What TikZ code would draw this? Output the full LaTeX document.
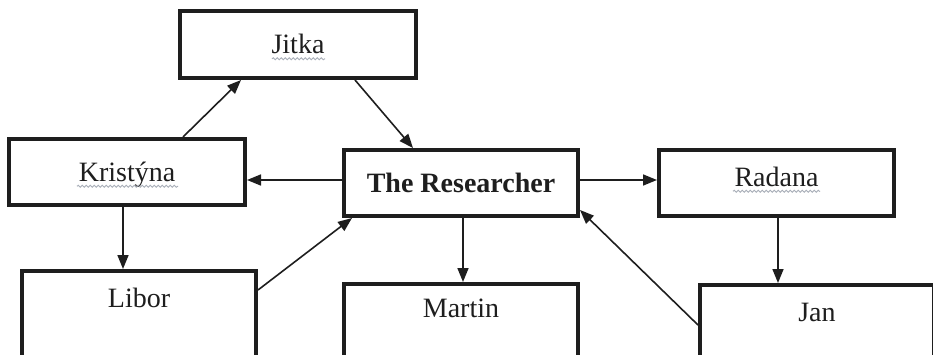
\documentclass[tikz,border=0pt]{standalone}
\usepackage{fontspec}
\setmainfont{Liberation Serif}
\usetikzlibrary{arrows.meta,decorations.pathmorphing}
\definecolor{ink}{HTML}{1E1E1E}
\definecolor{squigc}{HTML}{A8AEB8}
\begin{document}
\begin{tikzpicture}[x=0.5pt,y=-0.5pt,
  box/.style={draw=ink, line width=2pt, inner sep=0pt, text=ink,
    font=\fontsize{14}{16}\selectfont, text height=9.3pt, text depth=0pt},
  arr/.style={draw=ink, line width=0.8pt, -{Triangle[length=7pt,width=5.5pt]}},
  squig/.style={draw=squigc, line width=0.45pt, decorate,
    decoration={snake, amplitude=0.5pt, segment length=2pt}}
]
\clip (0,0) rectangle (933,354);
\fill[white] (0,0) rectangle (933,354);

\node[box, minimum width=118pt, minimum height=33.5pt] (jitka) at (298,44.5) {Jitka};
\node[box, minimum width=118pt, minimum height=33pt] (krist) at (127,172) {Kristýna};
\node[box, minimum width=117pt, minimum height=33pt,
  font=\fontsize{14}{16}\selectfont\bfseries] (res) at (461,183) {The Researcher};
\node[box, minimum width=117.5pt, minimum height=33pt, text depth=6pt] (radana) at (776.5,183) {Radana};

\node[box, minimum width=117pt, text height=18pt, text depth=52pt] (libor) at (139,341) {Libor};
\node[box, minimum width=117pt, text height=16.5pt, text depth=53.5pt] (martin) at (461,354) {Martin};
\node[box, minimum width=117pt, text height=18pt, text depth=52pt] (jan) at (817,355) {Jan};

\draw[squig] ([xshift=-13pt,yshift=-7.15pt]jitka.center) -- ([xshift=13.5pt,yshift=-7.15pt]jitka.center);
\draw[squig] ([xshift=-25pt,yshift=-7.15pt]krist.center) -- ([xshift=25.5pt,yshift=-7.15pt]krist.center);
\draw[squig] ([xshift=-21.75pt,yshift=-4.15pt]radana.center) -- ([xshift=21.75pt,yshift=-4.15pt]radana.center);

\draw[arr] ([xshift=28pt]krist.north) -- ([xshift=-28.5pt]jitka.south);
\draw[arr] ([xshift=28.5pt]jitka.south) -- ([xshift=-24pt]res.north);
\draw[arr] ([yshift=1.5pt]res.west) -- ([yshift=1.5pt]res.west -| krist.east);
\draw[arr] ([xshift=-2pt]krist.south) -- ([xshift=-2pt]krist.south |- libor.north);
\draw[arr] ([yshift=-10.5pt]libor.north east) -- ([xshift=5pt]res.south west);
\draw[arr] ([xshift=1pt]res.south) -- ([xshift=1pt]res.south |- martin.north);
\draw[arr] ([yshift=1.5pt]res.east) -- ([yshift=1.5pt]res.east -| radana.west);
\draw[arr] ([xshift=0.75pt]radana.south) -- ([xshift=0.75pt]radana.south |- jan.north);
\draw[arr] ([yshift=-21pt]jan.north west) -- ([yshift=4pt]res.south east);
\end{tikzpicture}
\end{document}
